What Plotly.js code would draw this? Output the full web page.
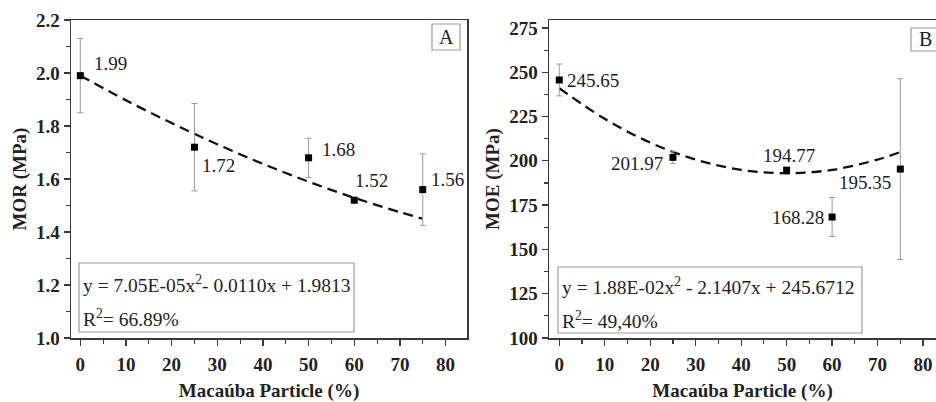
<!DOCTYPE html>
<html>
<head>
<meta charset="utf-8">
<script src="https://cdn.plot.ly/plotly-3.0.1.min.js"></script>
<style>html,body{margin:0;padding:0;background:#fff;}#chart{width:936px;height:402px;}</style>
</head>
<body>
<div id="chart"></div>
<script>
// ---- data ----
const particle = [0, 25, 50, 60, 75];
const morValues = [1.99, 1.72, 1.68, 1.52, 1.56];
const morErrors = [0.14, 0.165, 0.074, 0.01, 0.135];
const morLabels = ['1.99', '1.72', '1.68', '1.52', '1.56'];
const morFitX = [0, 10, 20, 30, 40, 50, 60, 70, 75];
const morFitY = [1.99, 1.897, 1.811, 1.731, 1.657, 1.59, 1.529, 1.475, 1.45];

const moeValues = [245.65, 201.97, 194.77, 168.28, 195.35];
const moeErrors = [9, 3.5, 1, 11, 51];
const moeLabels = ['245.65', '201.97', '194.77', '168.28', '195.35'];
const moeFitX = [0, 10, 20, 30, 40, 50, 60, 70, 75];
const moeFitY = [241, 223.7, 210.3, 200.7, 194.9, 193, 194.9, 200.7, 205];

const xTickVals = [0, 10, 20, 30, 40, 50, 60, 70, 80];
const morTickVals = [1.0, 1.2, 1.4, 1.6, 1.8, 2.0, 2.2];
const moeTickVals = [100, 125, 150, 175, 200, 225, 250, 275];

const eqA = ['y = 7.05E-05x<sup>2</sup>- 0.0110x + 1.9813', 'R<sup>2</sup>= 66.89%'];
const eqB = ['y = 1.88E-02x<sup>2</sup> - 2.1407x + 245.6712', 'R<sup>2</sup>= 49,40%'];
const xTitle = 'Macaúba Particle (%)';

// ---- helpers (pixel -> paper) ----
const W = 936, H = 402;
const px = v => v / W;
const py = v => 1 - v / H;

const serif = 'Liberation Serif';
const axisColor = '#3a3a3a';
const boxColor = '#9a9a9a';

function pointTrace(y, err, xa, ya) {
  return {
    x: particle, y: y, xaxis: xa, yaxis: ya, type: 'scatter', mode: 'markers',
    marker: {symbol: 'square', size: 7, color: '#000'},
    error_y: {type: 'data', array: err, visible: true, color: '#9a9a9a', thickness: 1, width: 3},
    showlegend: false, hoverinfo: 'x+y'
  };
}
function fitTrace(x, y, xa, ya) {
  return {
    x: x, y: y, xaxis: xa, yaxis: ya, type: 'scatter', mode: 'lines',
    line: {color: '#111', width: 2.3, dash: '10px,6px', shape: 'spline'},
    showlegend: false, hoverinfo: 'skip'
  };
}

const traces = [
  fitTrace(morFitX, morFitY, 'x', 'y'),
  pointTrace(morValues, morErrors, 'x', 'y'),
  fitTrace(moeFitX, moeFitY, 'x2', 'y2'),
  pointTrace(moeValues, moeErrors, 'x2', 'y2')
];

const tickFont = {family: serif, size: 19, color: '#222', weight: 'bold'};
const titleFont = {family: serif, size: 19, color: '#222', weight: 'bold'};

function xAxis(domain, range, anchor, mirror) {
  return {
    domain: domain, range: range, anchor: anchor,
    tickvals: xTickVals, ticks: 'outside', ticklen: 6, tickwidth: 1.3, tickcolor: axisColor,
    minor: {dtick: 5, ticks: 'outside', ticklen: 4, tickwidth: 1.1, tickcolor: axisColor},
    showline: true, linecolor: axisColor, linewidth: 1.5, mirror: mirror,
    showgrid: false, zeroline: false, tickfont: tickFont, ticklabelstandoff: 3,
    title: {text: xTitle, font: titleFont, standoff: 22}
  };
}

const layout = {
  width: W, height: H,
  margin: {l: 0, r: 0, t: 0, b: 0},
  paper_bgcolor: '#fff', plot_bgcolor: '#fff',
  showlegend: false,
  font: {family: serif},
  xaxis: xAxis([px(71), px(467)], [-2.04, 84.7], 'y', true),
  yaxis: {
    domain: [py(338), py(20)], range: [1.0, 2.2], anchor: 'x',
    tickvals: morTickVals, tickformat: '.1f', ticks: 'outside', ticklen: 6, tickwidth: 1.3, tickcolor: axisColor,
    minor: {dtick: 0.1, ticks: 'outside', ticklen: 4, tickwidth: 1.1, tickcolor: axisColor},
    showline: true, linecolor: axisColor, linewidth: 1.5, mirror: true,
    showgrid: false, zeroline: false, tickfont: tickFont,
    title: {text: 'MOR (MPa)', font: titleFont, standoff: 4}
  },
  xaxis2: xAxis([px(549), 1], [-2.26, 82.85], 'y2', true),
  yaxis2: {
    domain: [py(338), py(20)], range: [100, 279.5], anchor: 'x2',
    tickvals: moeTickVals, ticks: 'outside', ticklen: 6, tickwidth: 1.3, tickcolor: axisColor,
    minor: {dtick: 12.5, ticks: 'outside', ticklen: 4, tickwidth: 1.1, tickcolor: axisColor},
    showline: true, linecolor: axisColor, linewidth: 1.5, mirror: false,
    showgrid: false, zeroline: false, tickfont: tickFont,
    title: {text: 'MOE (MPa)', font: titleFont, standoff: 4}
  },
  shapes: [
    {type: 'rect', xref: 'paper', yref: 'paper', x0: px(79), x1: px(354), y0: py(332), y1: py(263), line: {color: boxColor, width: 1.2}},
    {type: 'rect', xref: 'paper', yref: 'paper', x0: px(558), x1: px(862), y0: py(333), y1: py(267), line: {color: boxColor, width: 1.2}},
    {type: 'rect', xref: 'paper', yref: 'paper', x0: px(432), x1: px(460), y0: py(50), y1: py(24), line: {color: boxColor, width: 1.2}},
    {type: 'rect', xref: 'paper', yref: 'paper', x0: px(911), x1: px(945), y0: py(51), y1: py(28), line: {color: boxColor, width: 1.2}}
  ],
  annotations: []
};

const labelFont = {family: serif, size: 19, color: '#222'};
const eqFont = {family: serif, size: 19.5, color: '#222'};
// label placement offsets (pixels) for each point
const morLabelPos = [
  {xanchor: 'left', xshift: 12, yshift: 12},
  {xanchor: 'left', xshift: 6, yshift: -18},
  {xanchor: 'left', xshift: 11, yshift: 8},
  {xanchor: 'center', xshift: 17, yshift: 20},
  {xanchor: 'left', xshift: 6, yshift: 10}
];
const moeLabelPos = [
  {xanchor: 'left', xshift: 6, yshift: -1},
  {xanchor: 'right', xshift: -8, yshift: -6},
  {xanchor: 'center', xshift: 2, yshift: 15},
  {xanchor: 'right', xshift: -6, yshift: 0},
  {xanchor: 'right', xshift: -7, yshift: -13}
];
particle.forEach((p, i) => {
  layout.annotations.push(Object.assign({x: p, y: morValues[i], xref: 'x', yref: 'y', text: morLabels[i],
    showarrow: false, yanchor: 'middle', font: labelFont}, morLabelPos[i]));
  layout.annotations.push(Object.assign({x: p, y: moeValues[i], xref: 'x2', yref: 'y2', text: moeLabels[i],
    showarrow: false, yanchor: 'middle', font: labelFont}, moeLabelPos[i]));
});

function eqText(text, x, y) {
  return {xref: 'paper', yref: 'paper', x: px(x), y: py(y), xanchor: 'left', yanchor: 'middle',
    text: text, showarrow: false, font: eqFont};
}
layout.annotations.push(eqText(eqA[0], 81, 284));
layout.annotations.push(eqText(eqA[1], 81, 318));
layout.annotations.push(eqText(eqB[0], 560, 286));
layout.annotations.push(eqText(eqB[1], 560, 320));
layout.annotations.push({xref: 'paper', yref: 'paper', x: px(446), y: py(37), text: 'A', showarrow: false,
  xanchor: 'center', yanchor: 'middle', font: {family: serif, size: 20, color: '#222'}});
layout.annotations.push({xref: 'paper', yref: 'paper', x: px(925), y: py(39), text: 'B', showarrow: false,
  xanchor: 'center', yanchor: 'middle', font: {family: serif, size: 20, color: '#222'}});

Plotly.newPlot('chart', traces, layout, {staticPlot: true, displayModeBar: false});
</script>
</body>
</html>
